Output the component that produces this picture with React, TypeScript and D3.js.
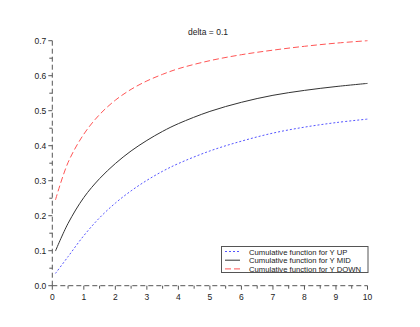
import React, { useEffect, useRef } from "react";
import * as d3 from "d3";

const xs = [0.1, 0.5, 1, 1.5, 2, 2.5, 3, 3.5, 4, 5, 6, 7, 8, 9, 10];
const yUp = [0.035, 0.083, 0.143, 0.194, 0.236, 0.271, 0.301, 0.327, 0.349, 0.385, 0.413, 0.436, 0.453, 0.466, 0.476];
const yMid = [0.099, 0.178, 0.252, 0.306, 0.349, 0.385, 0.415, 0.441, 0.463, 0.498, 0.524, 0.544, 0.558, 0.569, 0.578];
const yDown = [0.245, 0.352, 0.433, 0.489, 0.53, 0.561, 0.585, 0.604, 0.62, 0.643, 0.66, 0.673, 0.684, 0.693, 0.7];
const labels = [
  "Cumulative function for Y UP",
  "Cumulative function for Y MID",
  "Cumulative function for Y DOWN",
];

const App = () => {
  const svgRef = useRef<SVGSVGElement>(null);

  useEffect(() => {
    const svg = d3.select(svgRef.current);
    svg.selectAll("*").remove();

    const x = d3.scaleLinear().domain([0, 10]).range([52.3, 367.5]);
    const y = d3.scaleLinear().domain([0, 0.7]).range([285.7, 40.7]);
    const font = "Liberation Sans, Arial, sans-serif";
    const axisColor = "#555";

    // axes
    svg.append("line")
      .attr("x1", x(0)).attr("x2", x(10))
      .attr("y1", y(0)).attr("y2", y(0))
      .attr("stroke", axisColor).attr("stroke-dasharray", "5 3");
    svg.append("line")
      .attr("x1", x(0)).attr("x2", x(0))
      .attr("y1", y(0)).attr("y2", y(0.7))
      .attr("stroke", axisColor).attr("stroke-dasharray", "5 3");

    const xTicks = d3.range(0, 10.01, 0.5);
    svg.selectAll(".xt").data(xTicks).enter().append("line")
      .attr("x1", (d) => x(d)).attr("x2", (d) => x(d))
      .attr("y1", y(0)).attr("y2", (d) => y(0) + (d % 1 === 0 ? 4 : 3))
      .attr("stroke", axisColor);
    svg.selectAll(".xl").data(d3.range(0, 11)).enter().append("text")
      .attr("x", (d) => x(d)).attr("y", y(0) + 14)
      .attr("text-anchor", "middle").attr("font-size", 8.5).attr("font-family", font)
      .attr("fill", "#222")
      .text((d) => String(d));

    const yTicks = d3.range(0, 0.7001, 0.05);
    svg.selectAll(".yt").data(yTicks).enter().append("line")
      .attr("x1", x(0)).attr("x2", (_, i) => x(0) - (i % 2 === 0 ? 4 : 3))
      .attr("y1", (d) => y(d)).attr("y2", (d) => y(d))
      .attr("stroke", axisColor);
    svg.selectAll(".yl").data(d3.range(0, 8).map((i) => i / 10)).enter().append("text")
      .attr("x", x(0) - 6).attr("y", (d) => y(d) + 3)
      .attr("text-anchor", "end").attr("font-size", 8.5).attr("font-family", font)
      .attr("fill", "#222")
      .text((d) => d.toFixed(1));

    // title
    svg.append("text")
      .attr("x", 208).attr("y", 35)
      .attr("text-anchor", "middle").attr("font-size", 8.5).attr("font-family", font)
      .attr("fill", "#222")
      .text("delta = 0.1");

    const series = [
      { values: yUp, color: "#5555ff", dash: "2 2" },
      { values: yMid, color: "#333", dash: null },
      { values: yDown, color: "#ff5555", dash: "6 3" },
    ];

    const line = d3.line<number>()
      .x((_, i) => x(xs[i]))
      .y((d) => y(d))
      .curve(d3.curveCatmullRom.alpha(0.5));

    series.forEach((s) => {
      svg.append("path")
        .attr("d", line(s.values))
        .attr("fill", "none")
        .attr("stroke", s.color)
        .attr("stroke-width", 1)
        .attr("stroke-dasharray", s.dash);
    });

    // legend
    const lg = svg.append("g");
    lg.append("rect")
      .attr("x", 221.5).attr("y", 246.5).attr("width", 146.5).attr("height", 26)
      .attr("fill", "white").attr("stroke", "#555");
    series.forEach((s, i) => {
      const ly = 251.5 + i * 8.7;
      lg.append("line")
        .attr("x1", 225).attr("x2", 240).attr("y1", ly).attr("y2", ly)
        .attr("stroke", s.color).attr("stroke-dasharray", s.dash);
      lg.append("text")
        .attr("x", 249).attr("y", ly + 3)
        .attr("font-size", 7.7).attr("font-family", font).attr("fill", "#222")
        .text(labels[i]);
    });
  }, []);

  return <svg ref={svgRef} width={420} height={327} style={{ position: "absolute", left: 0, top: 0 }} />;
};

export default App;
